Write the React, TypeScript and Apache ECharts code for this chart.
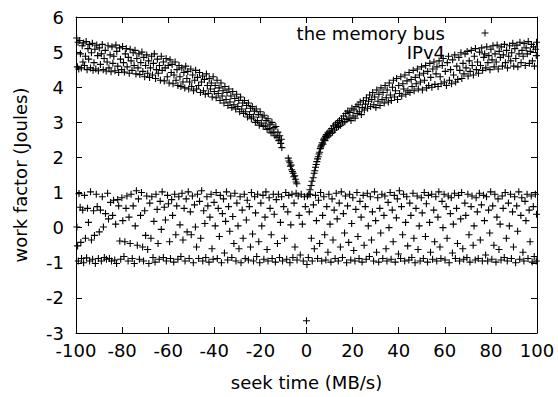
import React, { useEffect, useRef } from "react";
import * as echarts from "echarts";

const xTitle = "seek time (MB/s)";
const yTitle = "work factor (Joules)";
const seriesNames = ["the memory bus", "IPv4"];

const memoryBus: number[][] = [
  [-99.7,5.4],[-99.4,4.58],[-99.1,5.28],[-98.8,4.52],[-98.4,5.33],[-98.1,4.95],[-97.7,4.55],[-97.3,5.18],[-97,4.72],[-96.7,5.26],[-96.3,4.62],[-95.9,4.88],[-95.6,5.3],[-95.2,4.5],[-94.8,5.1],[-94.5,4.8],[-94.1,5.22],[-93.7,4.55],[-93.3,4.98],[-92.9,5.25],[-92.6,4.48],[-92.2,4.7],[-91.8,5.08],[-91.4,4.52],[-91,5.2],[-90.6,4.9],[-90.3,4.47],[-89.9,5.12],[-89.4,4.65],[-89,4.95],[-88.6,5.22],[-88.2,4.5],[-87.8,4.82],[-87.3,5.05],[-86.9,4.46],[-86.5,4.72],[-86.1,5.18],[-85.7,4.55],[-85.2,4.92],[-84.8,4.44],[-84.4,5.15],[-84,4.68],[-83.6,4.88],[-83.1,4.47],[-82.7,5.2],[-82.3,5.02],[-81.9,4.6],[-81.5,4.42],[-81.1,5.12],[-80.7,4.8],[-80.2,4.5],[-79.8,5.16],[-79.4,4.7],[-79,4.43],[-78.6,4.95],[-78.2,5.1],[-77.8,4.58],[-77.3,4.85],[-76.9,4.4],[-76.5,5.08],[-76.1,4.75],[-75.7,4.48],[-75.2,4.98],[-74.8,4.62],[-74.4,5.05],[-74,4.38],[-73.6,4.82],[-73.1,4.55],[-72.7,4.95],[-72.3,4.36],[-71.9,4.7],[-71.4,5.0],[-71,4.45],[-70.6,4.85],[-70.2,4.3],[-69.8,4.62],[-69.3,4.92],[-68.9,4.4],[-68.5,4.75],[-68.1,4.28],[-67.7,4.55],[-67.2,4.88],[-66.8,4.35],[-66.4,4.68],[-66,4.95],[-65.5,4.25],[-65.1,4.5],[-64.7,4.8],[-64.3,4.4],[-63.8,4.62],[-63.4,4.2],[-63,4.88],[-62.6,4.48],[-62.1,4.72],[-61.7,4.18],[-61.3,4.55],[-60.9,4.82],[-60.4,4.3],[-60,4.62],[-59.6,4.12],[-59.2,4.78],[-58.7,4.42],[-58.3,4.65],[-57.9,4.1],[-57.5,4.35],[-57,4.72],[-56.6,4.2],[-56.2,4.5],[-55.8,4.05],[-55.3,4.62],[-54.9,4.3],[-54.5,4.02],[-54.1,4.55],[-53.6,4.15],[-53.2,4.42],[-52.8,3.98],[-52.4,4.6],[-51.9,4.25],[-51.5,4.45],[-51.1,3.95],[-50.7,4.15],[-50.2,4.52],[-49.8,4.02],[-49.4,4.35],[-49,3.9],[-48.5,4.2],[-48.1,4.48],[-47.7,3.95],[-47.3,4.28],[-46.8,4.05],[-46.4,4.42],[-46,3.85],[-45.6,4.15],[-45.1,4.32],[-44.7,3.9],[-44.3,4.22],[-43.9,3.8],[-43.4,4.38],[-43,4.05],[-42.6,3.82],[-42.2,4.25],[-41.7,3.95],[-41.3,4.12],[-40.9,3.72],[-40.5,4.3],[-40,3.88],[-39.6,4.05],[-39.2,3.7],[-38.8,4.2],[-38.3,3.82],[-37.9,3.98],[-37.5,3.62],[-37.1,4.12],[-36.6,3.75],[-36.2,3.9],[-35.8,3.55],[-35.4,4.02],[-34.9,3.65],[-34.5,3.85],[-34.1,3.48],[-33.7,3.95],[-33.2,3.58],[-32.8,3.75],[-32.4,3.42],[-32,3.88],[-31.5,3.5],[-31.1,3.68],[-30.7,3.38],[-30.3,3.8],[-29.8,3.45],[-29.4,3.62],[-29,3.3],[-28.6,3.72],[-28.1,3.38],[-27.7,3.55],[-27.3,3.25],[-26.9,3.62],[-26.4,3.3],[-26,3.48],[-25.6,3.15],[-25.2,3.55],[-24.7,3.22],[-24.3,3.4],[-23.9,3.1],[-23.5,3.45],[-23,3.15],[-22.6,3.32],[-22.2,3.0],[-21.8,3.38],[-21.3,3.05],[-20.9,3.22],[-20.5,2.92],[-20.1,3.3],[-19.6,2.98],[-19.2,3.15],[-18.8,2.88],[-18.4,3.2],[-17.9,2.9],[-17.5,3.05],[-17.1,2.8],[-16.7,3.1],[-16.2,2.82],[-15.8,2.95],[-15.4,2.7],[-15,3.0],[-14.5,2.72],[-14.1,2.85],[-13.7,2.62],[-13.3,2.88],[-12.8,2.58],[-12.4,2.72],[-12,2.48],[-11.6,2.62],[-11.2,2.4],[-10.9,2.52],[-10.7,2.28],
  [-7.9,1.98],[-7.6,1.9],[-7.2,1.85],[-7,1.75],[-6.7,1.78],[-6.4,1.65],[-6.1,1.6],[-5.8,1.55],[-5.5,1.45],[-5.1,1.48],[-4.8,1.38],[-4.5,1.3],[-4.2,1.25],
  [1.0,0.95],[1.5,1.08],[2.0,1.2],[2.4,1.32],[2.9,1.42],[3.3,1.55],[3.6,1.62],[3.9,1.72],[4.2,1.8],[4.5,1.88],[4.8,1.96],[5.1,2.02],[5.4,2.1],[5.7,2.15],[6,2.25],[6.2,2.3],[6.5,2.35],[6.8,2.42],[7.1,2.38],[7.4,2.5],[7.7,2.55],[8,2.48],[8.3,2.6],[8.6,2.65],[9,2.58],[9.3,2.7],[9.7,2.62],[10.1,2.75],[10.5,2.68],[10.9,2.82],[11.3,2.72],[11.7,2.9],[12.2,2.78],[12.6,2.95],[13,2.85],[13.5,3.0],[13.9,2.88],[14.3,3.05],[14.8,2.92],[15.2,3.1],[15.7,2.98],[16.1,3.18],[16.6,3.02],[17,3.25],[17.5,3.08],[17.9,3.32],[18.4,3.12],[18.8,3.28],[19.3,3.05],[19.7,3.4],[20.2,3.18],[20.6,3.35],[21.1,3.12],[21.5,3.45],[22,3.25],[22.4,3.5],[22.9,3.3],[23.3,3.58],[23.8,3.22],[24.2,3.42],[24.7,3.62],[25.1,3.35],[25.6,3.52],[26,3.7],[26.5,3.4],[26.9,3.6],[27.4,3.78],[27.8,3.45],[28.3,3.65],[28.7,3.85],[29.2,3.5],[29.6,3.72],[30.1,3.42],[30.5,3.92],[31,3.6],[31.4,3.8],[31.9,3.48],[32.3,3.98],[32.8,3.65],[33.2,3.85],[33.7,3.55],[34.1,4.05],[34.6,3.7],[35,3.92],[35.5,3.58],[35.9,4.12],[36.4,3.78],[36.8,3.62],[37.3,4.0],[37.7,4.2],[38.2,3.72],[38.6,3.9],[39.1,4.25],[39.5,3.65],[40,4.05],[40.4,3.82],[40.9,4.3],[41.3,3.75],[41.8,4.1],[42.2,3.95],[42.7,4.35],[43.1,3.8],[43.6,4.18],[44,3.9],[44.5,4.42],[44.9,3.85],[45.4,4.22],[45.8,4.02],[46.3,4.48],[46.7,3.9],[47.2,4.28],[47.6,4.1],[48.1,4.52],[48.5,3.95],[49,4.35],[49.4,4.15],[49.9,4.58],[50.3,3.92],[50.8,4.4],[51.2,4.2],[51.7,4.62],[52.1,3.98],[52.6,4.45],[53,4.05],[53.5,4.68],[53.9,4.28],[54.4,4.0],[54.8,4.52],[55.3,4.72],[55.7,4.08],[56.2,4.38],[56.6,4.58],[57.1,4.02],[57.5,4.75],[58,4.3],[58.4,4.1],[58.9,4.62],[59.3,4.82],[59.8,4.15],[60.2,4.45],[60.7,4.05],[61.1,4.7],[61.6,4.88],[62,4.2],[62.5,4.5],[62.9,4.1],[63.4,4.78],[63.8,4.35],[64.3,4.92],[64.7,4.15],[65.2,4.6],[65.6,4.22],[66.1,4.85],[66.5,4.48],[67,4.98],[67.4,4.25],[67.9,4.68],[68.3,4.38],[68.8,4.95],[69.2,4.55],[69.7,5.02],[70.1,4.32],[70.6,4.75],[71,4.45],[71.5,5.05],[71.9,4.62],[72.4,4.35],[72.8,4.88],[73.3,5.1],[73.7,4.5],[74.2,4.72],[74.6,4.4],[75.1,5.0],[75.5,4.62],[76,5.12],[76.4,4.48],[76.9,4.85],[77.3,4.95],[77.8,4.55],[78.2,5.15],[78.7,4.7],[79.1,4.9],[79.6,4.5],[80,5.08],[80.5,4.78],[80.9,5.18],[81.4,4.58],[81.8,4.95],[82.3,4.72],[82.7,5.2],[83.2,4.52],[83.6,5.02],[84.1,4.85],[84.5,5.15],[85,4.6],[85.4,4.92],[85.9,5.22],[86.3,4.7],[86.8,5.05],[87.2,4.55],[87.7,4.88],[88.1,5.18],[88.6,4.75],[89,4.98],[89.5,5.25],[89.9,4.6],[90.4,5.1],[90.8,4.82],[91.3,5.2],[91.7,4.58],[92.2,4.95],[92.6,5.28],[93.1,4.7],[93.5,5.05],[94,4.88],[94.4,5.25],[94.9,4.62],[95.3,5.12],[95.8,4.95],[96.2,5.3],[96.7,4.68],[97.1,5.02],[97.6,5.22],[98,4.75],[98.5,5.15],[98.9,4.6],[99.4,5.08],[99.7,4.9],[99.8,5.28]
];

const ipv4: number[][] = [
  [-99.6,0.02],[-99.3,-0.52],[-99,-0.95],[-98.7,0.97],[-98.2,0.58],[-97.9,-0.42],[-97.6,-0.88],[-97.1,0.5],[-96.7,-1.0],[-96.3,0.92],[-95.9,-0.3],[-95.4,-0.86],[-95,0.55],[-94.6,0.15],[-94.1,-0.95],[-93.7,1.02],[-93.3,-0.35],[-92.8,-0.9],[-92.4,0.48],[-92,-0.22],[-91.6,-1.02],[-91.2,0.95],[-90.8,0.6],[-90.3,-0.88],[-89.9,-0.12],[-89.4,0.5],[-89,-0.95],[-88.6,0.88],[-88.1,0.02],[-87.7,-0.85],[-87.2,0.4],[-86.8,-0.9],[-86.3,0.98],[-85.9,0.25],[-85.5,-0.88],[-85,0.72],[-84.6,-0.95],[-84.1,0.35],[-83.7,0.78],[-83.2,-0.92],[-82.8,0.1],[-82.4,-1.02],[-81.9,0.8],[-81.5,0.62],[-81,-0.38],[-80.6,-0.9],[-80.1,0.85],[-79.7,0.2],[-79.2,-0.82],[-78.8,-0.4],[-78.3,0.55],[-77.9,0.9],[-77.4,-0.95],[-77,0.3],[-76.5,-0.45],[-76.1,0.95],[-75.6,-0.88],[-75.2,0.62],[-74.7,-1.02],[-74.3,0.05],[-73.8,1.05],[-73.4,-0.5],[-72.9,0.82],[-72.5,-0.9],[-72,0.35],[-71.6,1.0],[-71.1,-0.55],[-70.7,-0.95],[-70.2,0.48],[-69.8,-0.22],[-69.3,0.9],[-68.9,-0.62],[-68.4,-1.02],[-68,0.7],[-67.5,-0.3],[-67.1,0.88],[-66.6,-0.85],[-66.2,0.18],[-65.7,-0.98],[-65.3,0.95],[-64.8,0.52],[-64.4,-0.45],[-63.9,-0.9],[-63.5,0.75],[-63,-0.05],[-62.6,1.02],[-62.1,-0.85],[-61.7,0.58],[-61.2,0.22],[-60.8,-0.95],[-60.3,0.92],[-59.9,0.68],[-59.4,-0.4],[-59,-0.88],[-58.5,0.8],[-58.1,0.35],[-57.6,-0.98],[-57.2,0.95],[-56.7,-0.2],[-56.3,0.62],[-55.8,-0.9],[-55.4,0.88],[-54.9,0.08],[-54.5,-0.82],[-54,0.98],[-53.6,-0.35],[-53.1,0.55],[-52.7,-0.95],[-52.2,0.82],[-51.8,-0.12],[-51.3,1.02],[-50.9,-0.88],[-50.4,0.45],[-50,-0.2],[-49.5,0.9],[-49.1,-1.0],[-48.6,0.65],[-48.2,0.02],[-47.7,-0.55],[-47.3,0.95],[-46.8,-0.88],[-46.4,0.75],[-45.9,-0.3],[-45.5,1.05],[-45,-0.95],[-44.6,0.48],[-44.1,0.12],[-43.7,-0.85],[-43.2,0.88],[-42.8,0.62],[-42.3,-0.98],[-41.9,0.3],[-41.4,0.95],[-41,-0.6],[-40.5,-0.9],[-40.1,0.72],[-39.6,0.05],[-39.2,1.0],[-38.7,-0.88],[-38.3,0.55],[-37.8,-0.25],[-37.4,0.92],[-36.9,-1.0],[-36.5,0.4],[-36,0.82],[-35.6,-0.72],[-35.1,0.18],[-34.7,1.02],[-34.2,-0.92],[-33.8,0.6],[-33.3,-0.1],[-32.9,0.9],[-32.4,-0.85],[-32,0.32],[-31.5,-0.45],[-31.1,0.98],[-30.6,-0.95],[-30.2,0.7],[-29.7,0.05],[-29.3,-0.6],[-28.8,0.88],[-28.4,-1.0],[-27.9,0.5],[-27.5,-0.3],[-27,0.95],[-26.6,-0.88],[-26.1,0.22],[-25.7,0.78],[-25.2,-0.92],[-24.8,0.6],[-24.3,-0.55],[-23.9,1.0],[-23.4,-0.18],[-23,-0.95],[-22.5,0.88],[-22.1,0.42],[-21.6,-0.82],[-21.2,0.95],[-20.7,-0.4],[-20.3,-1.0],[-19.8,0.7],[-19.4,0.05],[-18.9,0.92],[-18.5,-0.9],[-18,0.3],[-17.6,1.02],[-17.1,-0.62],[-16.7,-0.95],[-16.2,0.85],[-15.8,0.55],[-15.3,-0.2],[-14.9,-0.88],[-14.4,0.95],[-14,0.38],[-13.5,-0.98],[-13.1,0.8],[-12.6,-0.45],[-12.2,0.95],[-11.7,-0.85],[-11.3,0.15],[-10.8,0.88],[-10.4,-0.95],[-9.9,0.6],[-9.5,-0.3],[-9,1.0],[-8.6,-0.9],[-8.1,0.45],[-7.7,0.92],[-7.2,-1.0],[-6.8,0.08],[-6.3,0.95],[-5.9,-0.85],[-5.4,0.7],[-5,-0.55],[-4.5,0.98],[-4.1,-0.92],[-3.6,0.9],[-3.2,0.35],[-2.7,-0.78],[-2.3,0.95],[-1.8,0.1],[-1.4,-0.95],[-0.9,0.88],[-0.5,0.6],[0,-2.65],[0.2,-1.05],[0.4,0.9],[0.8,-0.85],[1.2,0.45],[1.6,0.95],[2.1,-0.3],[2.5,-0.95],[3,0.65],[3.4,-0.6],[3.9,0.92],[4.3,0.2],[4.8,-0.88],[5.2,0.78],[5.7,-0.45],[6.1,1.0],[6.6,-0.95],[7,0.35],[7.5,0.88],[7.9,-0.2],[8.4,-0.92],[8.8,0.6],[9.3,-0.7],[9.7,0.95],[10.2,0.1],[10.6,-0.98],[11.1,0.82],[11.5,-0.35],[12,0.5],[12.4,-0.88],[12.9,0.98],[13.3,0.25],[13.8,-0.95],[14.2,0.7],[14.7,-0.55],[15.1,1.02],[15.6,-0.85],[16,0.4],[16.5,-0.15],[16.9,0.9],[17.4,-1.0],[17.8,0.62],[18.3,-0.42],[18.7,0.95],[19.2,-0.92],[19.6,0.12],[20.1,0.85],[20.5,-0.65],[21,-0.95],[21.4,0.52],[21.9,1.0],[22.3,-0.25],[22.8,-0.88],[23.2,0.75],[23.7,0.3],[24.1,-0.98],[24.6,0.92],[25,-0.5],[25.5,0.6],[25.9,-0.9],[26.4,0.98],[26.8,0.05],[27.3,-0.82],[27.7,0.88],[28.2,-0.35],[28.6,0.45],[29.1,-0.95],[29.5,1.02],[30,0.2],[30.4,-0.7],[30.9,0.85],[31.3,-0.98],[31.8,0.55],[32.2,-0.15],[32.7,0.95],[33.1,-0.88],[33.6,0.35],[34,0.9],[34.5,-0.6],[34.9,-0.95],[35.4,0.72],[35.8,0.0],[36.3,1.0],[36.7,-0.9],[37.2,0.5],[37.6,-0.4],[38.1,0.92],[38.5,-0.98],[39,0.28],[39.4,0.82],[39.9,-0.75],[40.3,1.05],[40.8,-0.88],[41.2,0.6],[41.7,-0.2],[42.1,0.95],[42.6,-0.95],[43,0.15],[43.5,0.88],[43.9,-0.52],[44.4,-0.92],[44.8,0.7],[45.3,0.35],[45.7,-0.85],[46.2,0.98],[46.6,-0.3],[47.1,-1.0],[47.5,0.55],[48,0.9],[48.4,-0.62],[48.9,0.05],[49.3,-0.95],[49.8,0.85],[50.2,0.42],[50.7,-0.88],[51.1,1.0],[51.6,-0.25],[52,0.68],[52.5,-0.98],[52.9,0.92],[53.4,0.15],[53.8,-0.7],[54.3,0.95],[54.7,-0.9],[55.2,0.5],[55.6,-0.4],[56.1,0.88],[56.5,-0.95],[57,0.3],[57.4,1.02],[57.9,-0.55],[58.3,-0.88],[58.8,0.75],[59.2,0.0],[59.7,0.95],[60.1,-0.92],[60.6,0.6],[61,-0.3],[61.5,0.9],[61.9,-1.0],[62.4,0.4],[62.8,0.85],[63.3,-0.72],[63.7,0.1],[64.2,0.98],[64.6,-0.88],[65.1,0.55],[65.5,-0.45],[66,0.92],[66.4,-0.95],[66.9,0.25],[67.3,1.0],[67.8,-0.6],[68.2,-0.9],[68.7,0.7],[69.1,0.35],[69.6,-0.85],[70,0.95],[70.5,-0.2],[70.9,-0.98],[71.4,0.6],[71.8,0.9],[72.3,-0.5],[72.7,0.05],[73.2,-0.92],[73.6,0.85],[74.1,0.45],[74.5,-0.88],[75,0.98],[75.4,-0.35],[75.9,0.65],[76.3,-0.95],[76.8,0.92],[77.2,0.2],[77.7,-0.78],[78.1,0.88],[78.6,-0.95],[79,0.5],[79.5,-0.15],[79.9,1.02],[80.4,-0.9],[80.8,0.62],[81.3,-0.5],[81.7,0.95],[82.2,-0.98],[82.6,0.3],[83.1,0.82],[83.5,-0.62],[84,0.1],[84.4,-0.92],[84.9,0.9],[85.3,0.55],[85.8,-0.85],[86.2,1.0],[86.7,-0.3],[87.1,-0.95],[87.6,0.7],[88,0.05],[88.5,0.95],[88.9,-0.88],[89.4,0.45],[89.8,-0.55],[90.3,0.88],[90.7,-1.0],[91.2,0.62],[91.6,-0.1],[92.1,1.02],[92.5,-0.9],[93,0.35],[93.4,0.85],[93.9,-0.7],[94.3,-0.95],[94.8,0.75],[95.2,0.2],[95.7,0.95],[96.1,-0.88],[96.6,0.5],[97,-0.4],[97.5,0.9],[97.9,-0.98],[98.4,0.6],[98.8,-0.82],[99.3,0.95],[99.7,-0.95],[99.8,0.38]
];

const FONT = "DejaVu Sans";
const PLUS = "path://M2.95,0H4.05V2.95H7V4.05H4.05V7H2.95V4.05H0V2.95H2.95Z";

export default function App() {
  const ref = useRef<HTMLDivElement>(null);
  useEffect(() => {
    if (!ref.current) return;
    const chart = echarts.init(ref.current, undefined, { renderer: "svg" });
    const axisLine = { show: true, onZero: false, lineStyle: { color: "#000", width: 1 } };
    const tick = { show: true, inside: true, length: 6, lineStyle: { color: "#000", width: 1 } };
    const label = { color: "#000", fontSize: 18, fontFamily: FONT };
    chart.setOption({
      animation: false,
      backgroundColor: "#fff",
      grid: { left: 76, right: 21, top: 17, bottom: 64, containLabel: false },
      xAxis: [
        {
          type: "value", min: -100, max: 100, interval: 20, position: "bottom",
          axisLine, axisTick: tick, splitLine: { show: false },
          axisLabel: { ...label, margin: 8 },
          name: xTitle, nameLocation: "middle", nameGap: 40,
          nameTextStyle: { color: "#000", fontSize: 18, fontFamily: FONT },
        },
        {
          type: "value", min: -100, max: 100, interval: 20, position: "top",
          axisLine, axisTick: tick, splitLine: { show: false }, axisLabel: { show: false },
        },
      ],
      yAxis: [
        {
          type: "value", min: -3, max: 6, interval: 1, position: "left",
          axisLine, axisTick: tick, splitLine: { show: false },
          axisLabel: { ...label, margin: 12 },
          name: yTitle, nameLocation: "middle", nameGap: 47,
          nameTextStyle: { color: "#000", fontSize: 18, fontFamily: FONT },
        },
        {
          type: "value", min: -3, max: 6, interval: 1, position: "right",
          axisLine, axisTick: tick, splitLine: { show: false }, axisLabel: { show: false },
        },
      ],
      series: [
        {
          name: seriesNames[0], type: "scatter", data: memoryBus, symbol: PLUS, symbolSize: 7,
          itemStyle: { color: "#000", opacity: 1 }, xAxisIndex: 0, yAxisIndex: 0,
        },
        {
          name: seriesNames[1], type: "scatter", data: ipv4, symbol: PLUS, symbolSize: 7,
          itemStyle: { color: "#000", opacity: 1 }, xAxisIndex: 0, yAxisIndex: 0,
        },
      ],
      graphic: [
        { type: "text", x: 445, y: 33, style: { text: seriesNames[0], align: "right", verticalAlign: "middle", fill: "#000", font: `18px "${FONT}"` } },
        { type: "text", x: 445, y: 52, style: { text: seriesNames[1], align: "right", verticalAlign: "middle", fill: "#000", font: `18px "${FONT}"` } },
        { type: "line", shape: { x1: 481.5, y1: 33, x2: 488.5, y2: 33 }, style: { stroke: "#000", lineWidth: 1 } },
        { type: "line", shape: { x1: 485, y1: 29.5, x2: 485, y2: 36.5 }, style: { stroke: "#000", lineWidth: 1 } },
      ],
    });
    return () => chart.dispose();
  }, []);
  return <div ref={ref} style={{ position: "fixed", left: 0, top: 0, width: 558, height: 397 }} />;
}
